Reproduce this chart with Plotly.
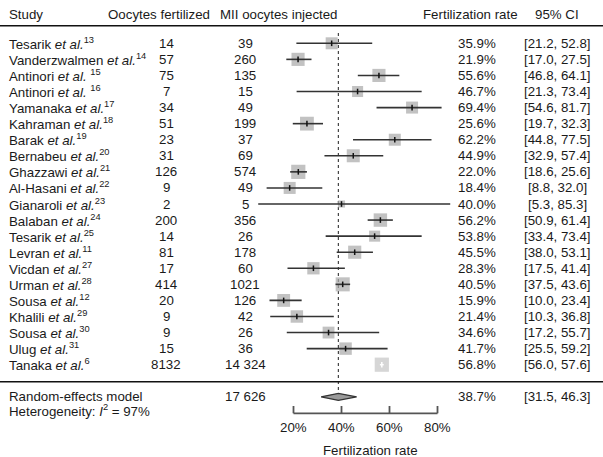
import plotly.graph_objects as go

# ---------------- data ----------------
studies = ["Tesarik", "Vanderzwalmen", "Antinori", "Antinori", "Yamanaka", "Kahraman",
           "Barak", "Bernabeu", "Ghazzawi", "Al-Hasani", "Gianaroli", "Balaban",
           "Tesarik", "Levran", "Vicdan", "Urman", "Sousa", "Khalili", "Sousa",
           "Ulug", "Tanaka"]
refs = [13, 14, 15, 16, 17, 18, 19, 20, 21, 22, 23, 24, 25, 11, 27, 28, 12, 29, 30, 31, 6]
fertilized = [14, 57, 75, 7, 34, 51, 23, 31, 126, 9, 2, 200, 14, 81, 17, 414, 20, 9, 9, 15, 8132]
injected = [39, 260, 135, 15, 49, 199, 37, 69, 574, 49, 5, 356, 26, 178, 60, 1021, 126, 42, 26, 36, 14324]
rate = [35.9, 21.9, 55.6, 46.7, 69.4, 25.6, 62.2, 44.9, 22.0, 18.4, 40.0, 56.2, 53.8, 45.5,
        28.3, 40.5, 15.9, 21.4, 34.6, 41.7, 56.8]
ci_lo = [21.2, 17.0, 46.8, 21.3, 54.6, 19.7, 44.8, 32.9, 18.6, 8.8, 5.3, 50.9, 33.4, 38.0,
         17.5, 37.5, 10.0, 10.3, 17.2, 25.5, 56.0]
ci_hi = [52.8, 27.5, 64.1, 73.4, 81.7, 32.3, 77.5, 57.4, 25.6, 32.0, 85.3, 61.4, 73.4, 53.1,
         41.4, 43.6, 23.4, 36.8, 55.7, 59.2, 57.6]
weights = [4.0, 4.8, 4.8, 3.4, 4.0, 5.3, 4.0, 4.7, 5.6, 4.0, 1.4, 5.0, 3.4, 4.8,
           4.2, 5.5, 4.6, 4.3, 3.9, 4.3, 5.6]
pooled_rate, pooled_lo, pooled_hi = 38.7, 31.5, 46.3
i2 = 97
axis_ticks = [20, 40, 60, 80]

# ---------------- layout geometry ----------------
W, H = 603, 457
X0_PX, PX_PER_PCT = 245.5, 2.4        # pixel of 0 %, pixels per 1 %
ROW0_PX, ROW_PX = 43.3, 16.07         # pixel of first row, row pitch

xr = [(0 - X0_PX) / PX_PER_PCT, (W - X0_PX) / PX_PER_PCT]
yr = [(H - ROW0_PX) / ROW_PX, (0 - ROW0_PX) / ROW_PX]


def row_of(px):
    return (px - ROW0_PX) / ROW_PX


def px_x(px):
    return px / W


FONT = dict(family="Arial, 'Liberation Sans', Helvetica, sans-serif", size=13.3, color="#1a1a1a")
LINE_C = "#333333"
BOX_C = "#a8a8a8"

n = len(studies)
rows = list(range(n))
sizes = [6.0 * w ** 0.5 for w in weights]

fig = go.Figure()

# dotted reference line at the pooled estimate
diamond_h = 0.22
fig.add_trace(go.Scatter(x=[pooled_rate, pooled_rate], y=[row_of(33), 22 - diamond_h],
                         mode="lines", line=dict(color="#444444", width=1.2, dash="dot"),
                         hoverinfo="skip", showlegend=False))

# boxes
fig.add_trace(go.Scatter(x=rate, y=rows, mode="markers",
                         marker=dict(symbol="square", size=sizes,
                                     color=[BOX_C if i < n - 1 else "#c4c4c4" for i in rows],
                                     line=dict(width=0)),
                         hoverinfo="skip", showlegend=False))

# CI lines (white when inside the box)
inside = [(ci_hi[i] - ci_lo[i]) * PX_PER_PCT < sizes[i] for i in rows]
xs_o, ys_o, xs_i, ys_i = [], [], [], []
for i in rows:
    if inside[i]:
        xs_i += [ci_lo[i], ci_hi[i], None]
        ys_i += [i, i, None]
    else:
        xs_o += [ci_lo[i], ci_hi[i], None]
        ys_o += [i, i, None]
fig.add_trace(go.Scatter(x=xs_o, y=ys_o, mode="lines", line=dict(color=LINE_C, width=1.6),
                         hoverinfo="skip", showlegend=False))
fig.add_trace(go.Scatter(x=xs_i, y=ys_i, mode="lines", line=dict(color="white", width=1.5),
                         hoverinfo="skip", showlegend=False))

# point estimate ticks
fig.add_trace(go.Scatter(x=rate, y=rows, mode="markers",
                         marker=dict(symbol="line-ns", size=4,
                                     line=dict(width=1.5,
                                               color=["white" if v else "#111111" for v in inside])),
                         hoverinfo="skip", showlegend=False))

# pooled diamond
fig.add_trace(go.Scatter(x=[pooled_lo, pooled_rate, pooled_hi, pooled_rate, pooled_lo],
                         y=[22, 22 - diamond_h, 22, 22 + diamond_h, 22],
                         mode="lines", fill="toself", fillcolor="#9a9a9a",
                         line=dict(color="#333333", width=1.3),
                         hoverinfo="skip", showlegend=False))

# bracket axis
ax_y = row_of(413.3)
tk_y = row_of(406)
bx, by = [axis_ticks[0], axis_ticks[-1], None], [ax_y, ax_y, None]
for t in axis_ticks:
    bx += [t, t, None]
    by += [tk_y, ax_y, None]
fig.add_trace(go.Scatter(x=bx, y=by, mode="lines", line=dict(color="#555555", width=1.8),
                         hoverinfo="skip", showlegend=False))

ann = []


def txt(x, y, s, anchor="left", xref="paper"):
    ann.append(dict(x=x, y=y, xref=xref, yref="y", text=s, showarrow=False,
                    xanchor=anchor, yanchor="middle", font=FONT, borderpad=0))


def fmt(v):
    return f"{v:,}".replace(",", " ") if v >= 10000 else str(v)


# headers
hy = row_of(14.5)
txt(px_x(8), hy, "Study")
txt(px_x(107), hy, "Oocytes fertilized")
txt(px_x(219), hy, "MII oocytes injected")
txt(px_x(422), hy, "Fertilization rate")
txt(px_x(557), hy, "95% CI", "center")

for i in rows:
    sep = " " if refs[i] in (15, 16) else ""
    txt(px_x(8), i, f"{studies[i]} <i>et al.</i>{sep}<sup>{refs[i]}</sup>")
    txt(px_x(166), i, fmt(fertilized[i]), "center")
    txt(px_x(245), i, fmt(injected[i]), "center")
    txt(px_x(477), i, f"{rate[i]:.1f}%", "center")
    txt(px_x(557), i, f"[{ci_lo[i]:.1f}, {ci_hi[i]:.1f}]", "center")

txt(px_x(8), 22, "Random-effects model")
txt(px_x(245), 22, fmt(sum(injected)), "center")
txt(px_x(477), 22, f"{pooled_rate:.1f}%", "center")
txt(px_x(557), 22, f"[{pooled_lo:.1f}, {pooled_hi:.1f}]", "center")
txt(px_x(8), row_of(410.5), f"Heterogeneity: <i>I</i><sup>2</sup> = {i2}%")

for t in axis_ticks:
    txt(t, row_of(427.7), f"{t}%", "center", xref="x")
txt(px_x(370), row_of(450), "Fertilization rate", "center")

shapes = [
    dict(type="line", xref="paper", yref="y", x0=0, x1=1, y0=row_of(25.7), y1=row_of(25.7),
         line=dict(color="#111111", width=1.5)),
    dict(type="line", xref="paper", yref="y", x0=0, x1=1, y0=row_of(381.7), y1=row_of(381.7),
         line=dict(color="#111111", width=1.5)),
]

fig.update_layout(
    width=W, height=H, margin=dict(l=0, r=0, t=0, b=0),
    paper_bgcolor="white", plot_bgcolor="white",
    xaxis=dict(range=xr, visible=False, fixedrange=True),
    yaxis=dict(range=yr, visible=False, fixedrange=True),
    annotations=ann, shapes=shapes, showlegend=False,
)

fig.write_html("out.html", config={"displayModeBar": False},
               post_script="document.body.style.margin='0';document.body.style.overflow='hidden';")
